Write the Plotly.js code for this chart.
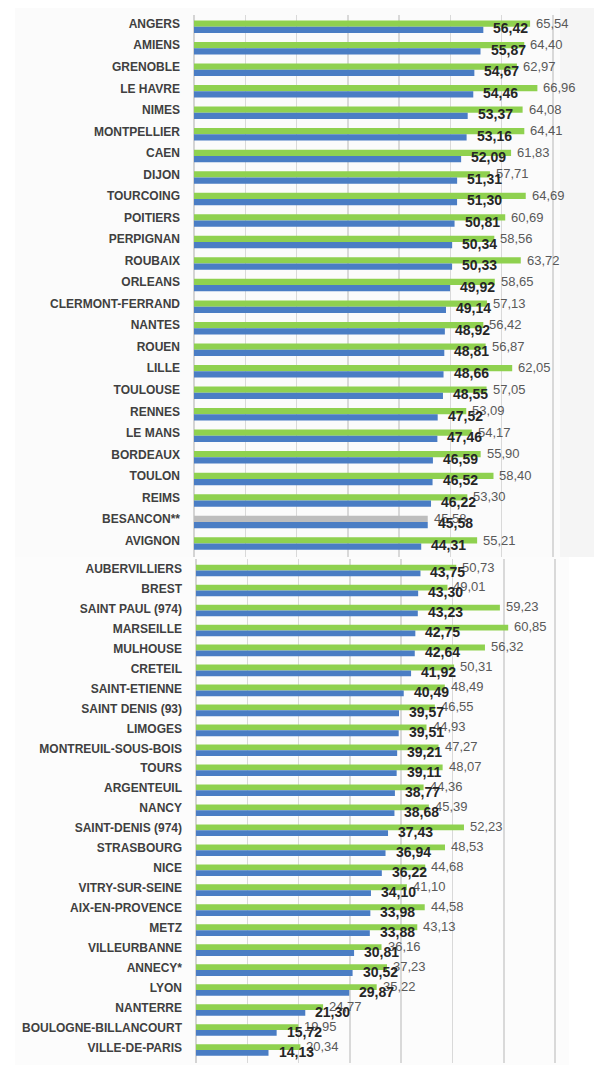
<!DOCTYPE html>
<html>
<head>
<meta charset="utf-8">
<script src="https://cdn.plot.ly/plotly-3.0.1.min.js"></script>
<style>html,body{margin:0;padding:0;background:#fff;}#chart{width:594px;height:1065px;}</style>
</head>
<body>
<div id="chart"></div>
<script>
// ---- Data ----
const citiesTop = ["ANGERS","AMIENS","GRENOBLE","LE HAVRE","NIMES","MONTPELLIER","CAEN","DIJON","TOURCOING","POITIERS","PERPIGNAN","ROUBAIX","ORLEANS","CLERMONT-FERRAND","NANTES","ROUEN","LILLE","TOULOUSE","RENNES","LE MANS","BORDEAUX","TOULON","REIMS","BESANCON**","AVIGNON"];
const blueTop  = [56.42,55.87,54.67,54.46,53.37,53.16,52.09,51.31,51.30,50.81,50.34,50.33,49.92,49.14,48.92,48.81,48.66,48.55,47.52,47.46,46.59,46.52,46.22,45.58,44.31];
const greenTop = [65.54,64.40,62.97,66.96,64.08,64.41,61.83,57.71,64.69,60.69,58.56,63.72,58.65,57.13,56.42,56.87,62.05,57.05,53.09,54.17,55.90,58.40,53.30,45.58,55.21];

const citiesBottom = ["AUBERVILLIERS","BREST","SAINT PAUL (974)","MARSEILLE","MULHOUSE","CRETEIL","SAINT-ETIENNE","SAINT DENIS (93)","LIMOGES","MONTREUIL-SOUS-BOIS","TOURS","ARGENTEUIL","NANCY","SAINT-DENIS (974)","STRASBOURG","NICE","VITRY-SUR-SEINE","AIX-EN-PROVENCE","METZ","VILLEURBANNE","ANNECY*","LYON","NANTERRE","BOULOGNE-BILLANCOURT","VILLE-DE-PARIS"];
const blueBottom  = [43.75,43.30,43.23,42.75,42.64,41.92,40.49,39.57,39.51,39.21,39.11,38.77,38.68,37.43,36.94,36.22,34.10,33.98,33.88,30.81,30.52,29.87,21.30,15.72,14.13];
const greenBottom = [50.73,49.01,59.23,60.85,56.32,50.31,48.49,46.55,44.93,47.27,48.07,44.36,45.39,52.23,48.53,44.68,41.10,44.58,43.13,36.16,37.23,35.22,24.77,19.95,20.34];

// ---- Styles ----
const GREEN = "#8FD14F", BLUE = "#4A7DC4", GREY_BAR = "#BDBDBD";
const greenColorsTop = citiesTop.map(c => c === "BESANCON**" ? GREY_BAR : GREEN);
const FONT = "Liberation Sans, Arial, sans-serif";
const fmt = v => v.toFixed(2).replace(".", ",");

function bar(y, x, colors, xa, ya) {
  return {
    type: "bar", orientation: "h", y: y, x: x, xaxis: xa, yaxis: ya,
    marker: {color: colors}, hoverinfo: "skip", showlegend: false
  };
}

const data = [
  bar(citiesTop, greenTop, greenColorsTop, "x", "y"),
  bar(citiesTop, blueTop, BLUE, "x", "y"),
  bar(citiesBottom, greenBottom, GREEN, "x2", "y2"),
  bar(citiesBottom, blueBottom, BLUE, "x2", "y2")
];

// value labels
const annotations = [];
function addLabels(cities, green, blue, xr, yr) {
  cities.forEach((c, i) => {
    annotations.push({
      xref: xr, yref: yr, x: green[i], y: c, text: fmt(green[i]),
      xanchor: "left", yanchor: "middle", xshift: 4, yshift: 3.5, showarrow: false,
      font: {family: FONT, size: 13, color: "#595959"}
    });
  });
  cities.forEach((c, i) => {
    annotations.push({
      xref: xr, yref: yr, x: blue[i], y: c, text: "<b>" + fmt(blue[i]) + "</b>",
      xanchor: "left", yanchor: "middle", xshift: 8, yshift: -1.5, showarrow: false,
      font: {family: FONT, size: 14, color: "#262626"}
    });
  });
}
addLabels(citiesTop, greenTop, blueTop, "x", "y");
addLabels(citiesBottom, greenBottom, blueBottom, "x2", "y2");

const W = 594, H = 1065;
const xCommon = {
  showticklabels: false, ticks: "", dtick: 10, tick0: 0,
  showgrid: true, gridcolor: "#d9d9d9", gridwidth: 1.5,
  zeroline: true, zerolinecolor: "#d4d4d4", zerolinewidth: 1.5,
  showline: false, fixedrange: true
};
const yCommon = {
  type: "category", autorange: "reversed", ticks: "", showgrid: false,
  zeroline: false, showline: false, ticklabelstandoff: 13,
  tickfont: {family: FONT, size: 12, color: "#404040", weight: "bold"}, fixedrange: true
};

const layout = {
  width: W, height: H,
  margin: {l: 0, r: 0, t: 0, b: 0},
  paper_bgcolor: "#ffffff", plot_bgcolor: "rgba(0,0,0,0)",
  barmode: "group", bargap: 0.42, bargroupgap: 0,
  xaxis: Object.assign({}, xCommon, {domain: [194 / W, 1], range: [0, 78], anchor: "y"}),
  yaxis: Object.assign({}, yCommon, {domain: [1 - 556.5 / H, 1 - 15.2 / H], anchor: "x", ticklabelshift: 3}),
  xaxis2: Object.assign({}, xCommon, {domain: [196 / W, 569 / W], range: [0, 72.7], anchor: "y2"}),
  yaxis2: Object.assign({}, yCommon, {domain: [1 - 1063 / H, 1 - 559 / H], anchor: "x2", ticklabelshift: 2}),
  annotations: annotations,
  shapes: [
    {type: "rect", xref: "paper", yref: "paper", layer: "below",
     x0: 15 / W, x1: 1, y0: 1 - 557 / H, y1: 1 - 8 / H,
     fillcolor: "#fbfbfb", line: {width: 0}},
    {type: "rect", xref: "paper", yref: "paper", layer: "below",
     x0: 560 / W, x1: 1, y0: 1 - 557 / H, y1: 1 - 8 / H,
     fillcolor: "#f5f5f5", line: {width: 0}},
    {type: "rect", xref: "paper", yref: "paper", layer: "below",
     x0: 15 / W, x1: 569 / W, y0: 0, y1: 1 - 557 / H,
     fillcolor: "#fcfcfc", line: {width: 0}}
  ]
};

Plotly.newPlot("chart", data, layout, {displayModeBar: false, staticPlot: true});
</script>
</body>
</html>
